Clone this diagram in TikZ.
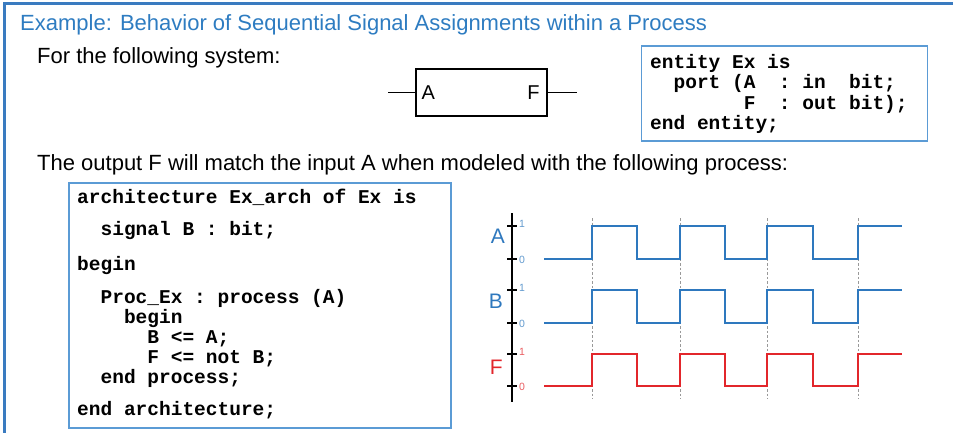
\documentclass[tikz,border=0pt]{standalone}
\usepackage{fontspec}
\setmainfont{Liberation Sans}
\setmonofont{Liberation Mono}
\usepackage{tikz}
\usetikzlibrary{positioning,calc}
\definecolor{frameblue}{HTML}{3A7BC0}
\definecolor{boxblue}{HTML}{5B9BD5}
\definecolor{titleblue}{HTML}{2E7CC1}
\definecolor{waveblue}{HTML}{2E78BE}
\definecolor{wavered}{HTML}{E2262B}
\newcommand{\codetab}[1]{\hspace*{#1em}}

\begin{document}
\begin{tikzpicture}[x=1pt, y=-1pt,
  heading/.style={font=\fontsize{22}{24}\selectfont, text=titleblue, inner sep=0pt, anchor=base west},
  bodytext/.style={font=\fontsize{22}{24}\selectfont, inner sep=0pt, anchor=base west},
  codeframe/.style={draw=boxblue, line width=1.6pt, anchor=north west, inner sep=0pt},
  codetext/.style={font=\fontsize{19.5}{20}\selectfont\ttfamily\bfseries, align=left, inner sep=0pt, anchor=base west},
  sysbox/.style={draw, line width=1.4pt, minimum width=131, minimum height=47, inner sep=0pt},
  pinline/.style={line width=1.4pt},
  pinname/.style={font=\fontsize{20}{22}\selectfont, inner sep=0pt},
  siglabel/.style={font=\fontsize{21}{22}\selectfont, inner sep=0pt, anchor=base east},
  ticklabel/.style={font=\fontsize{10.5}{11}\selectfont, inner sep=0pt, anchor=west},
  axisline/.style={line width=2.4pt},
  tickmark/.style={line width=1.6pt},
  gridline/.style={gray!80, line width=0.9pt, dash pattern=on 2.5pt off 2pt},
  wave/.style={line width=2.5pt}
]
  \useasboundingbox (0,0) rectangle (953,433);
  \draw[frameblue, line width=3pt] (4,433) -- (4,4) -- (953,4);

  \node[heading] (title) at (20,31) {Example: Behavior of Sequential Signal Assignments within a Process};
  \node[bodytext] (intro) at (37,64) {For the following system:};

  % block symbol
  \node[sysbox] (sys) at (481.5,92.5) {};
  \node[pinname, anchor=west] (pinA) at ([xshift=6pt]sys.west) {A};
  \node[pinname, anchor=east] (pinF) at ([xshift=-8pt]sys.east) {F};
  \coordinate (inA) at (388,92.5);
  \coordinate (outF) at (577,92.5);
  \draw[pinline] (inA) -- (sys.west);
  \draw[pinline] (sys.east) -- (outF);

  % entity declaration (base = last line)
  \node[codeframe, minimum width=286, minimum height=95] (entbox) at (640.5,45) {};
  \node[codetext] (entcode) at ([shift={(9.5,84.5)}]entbox.north west) {entity Ex is\\[0.5pt]
    \codetab{1.2}port (A\ \ : in\ \ bit;\\[0.5pt]
    \codetab{4.8}F\ \ : out bit);\\[0.5pt]
    end entity;};

  \node[bodytext] (claim) at (37,170) {The output F will match the input A when modeled with the following process:};

  % architecture body (base = last line)
  \node[codeframe, minimum width=382, minimum height=245] (archbox) at (68,182) {};
  \node[codetext] (archcode) at ([shift={(9,233)}]archbox.north west) {architecture Ex\_arch of Ex is\\[12pt]
    \codetab{1.2}signal B : bit;\\[15pt]
    begin\\[13pt]
    \codetab{1.2}Proc\_Ex : process (A)\\
    \codetab{2.4}begin\\
    \codetab{3.6}B <= A;\\
    \codetab{3.6}F <= not B;\\
    \codetab{1.2}end process;\\[12pt]
    end architecture;};

  % timing diagram
  \draw[gridline] (592,218) -- (592,399);
  \draw[gridline] (680,218) -- (680,399);
  \draw[gridline] (767,218) -- (767,399);
  \draw[gridline] (858,218) -- (858,399);

  \draw[axisline] (512,213) -- (512,402);
  \draw[tickmark] (507,226) -- (517,226);
  \draw[tickmark] (507,259) -- (517,259);
  \draw[tickmark] (507,290) -- (517,290);
  \draw[tickmark] (507,323) -- (517,323);
  \draw[tickmark] (507,354) -- (517,354);
  \draw[tickmark] (507,386) -- (517,386);

  \node[siglabel, text=waveblue] (sigA) at (505,243) {A};
  \node[siglabel, text=waveblue] (sigB) at (503,308) {B};
  \node[siglabel, text=wavered] (sigF) at (503,374) {F};
  \node[ticklabel, text=waveblue!75] (a1) at (519,224) {1};
  \node[ticklabel, text=waveblue!75] (a0) at (519,260) {0};
  \node[ticklabel, text=waveblue!75] (b1) at (519,288) {1};
  \node[ticklabel, text=waveblue!75] (b0) at (519,324) {0};
  \node[ticklabel, text=wavered!75] (f1) at (519,352) {1};
  \node[ticklabel, text=wavered!75] (f0) at (519,387) {0};

  \draw[wave, waveblue] (544,259) -| (592,226) -| (637,259) -| (680,226) -| (725,259) -| (767,226) -| (813,259) -| (858,226) -- (902,226);
  \draw[wave, waveblue] (544,323) -| (592,290) -| (637,323) -| (680,290) -| (725,323) -| (767,290) -| (813,323) -| (858,290) -- (902,290);
  \draw[wave, wavered] (544,386) -| (592,354) -| (637,386) -| (680,354) -| (725,386) -| (767,354) -| (813,386) -| (858,354) -- (902,354);
\end{tikzpicture}
\end{document}
